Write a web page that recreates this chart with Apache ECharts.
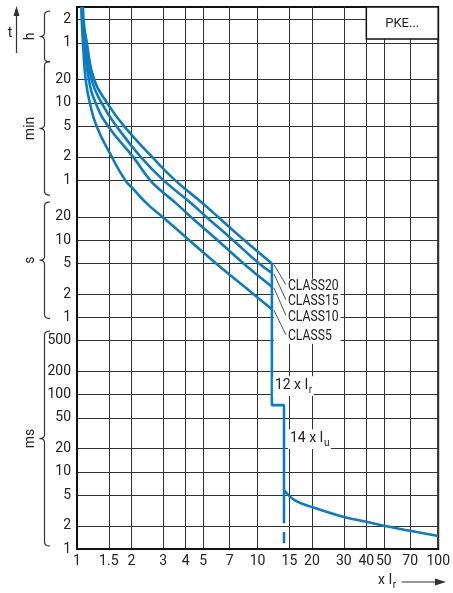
<!DOCTYPE html>
<html><head><meta charset="utf-8">
<script src="https://cdn.jsdelivr.net/npm/echarts@6/dist/echarts.min.js"></script>
<style>html,body{margin:0;padding:0;background:#fff}#c{width:453px;height:593px}</style>
</head><body><div id="c"></div>
<script>
// ---- data (x = multiple of Ir, t = seconds) ----
const xTicks = [1, 1.5, 2, 3, 4, 5, 7, 10, 15, 20, 30, 40, 50, 70, 100];
const yTicks = [0.001, 0.002, 0.005, 0.01, 0.02, 0.05, 0.1, 0.2, 0.5, 1, 2, 5, 10, 20, 60, 120, 300, 600, 1200, 3600, 7200];
const class5  = [[1.058, 10500], [1.062, 7200], [1.079, 3600], [1.117, 1200], [1.179, 600], [1.284, 300], [1.559, 120], [1.85, 60], [2.07, 45], [2.43, 30], [2.977, 20], [4.183, 10], [5.892, 5], [9.494, 2], [12, 1.28]];
const class10 = [[1.065, 10500], [1.07, 7200], [1.097, 3600], [1.164, 1200], [1.268, 600], [1.488, 300], [2.043, 120], [2.541, 60], [2.866, 45.5], [3.54, 30], [4.274, 20], [6.005, 10], [8.36, 5], [12, 2.49]];
const class15 = [[1.072, 10500], [1.078, 7200], [1.115, 3600], [1.205, 1200], [1.368, 600], [1.655, 300], [2.252, 120], [3.007, 60], [4.3, 30], [5.203, 20], [7.318, 10], [10.2, 5], [12, 3.78]];
const class20 = [[1.08, 10500], [1.087, 7200], [1.134, 3600], [1.245, 1200], [1.469, 600], [1.822, 300], [2.606, 120], [3.489, 60], [4.977, 30], [6.043, 20], [8.447, 10], [12, 5]];
const tripStep = [[12, 5], [12, 0.073], [14, 0.073], [14, 0.00216]];
const tripStepDash = [[14, 0.00166], [14, 0.00119]];
const shortCircuit = [[14, 0.0058], [16, 0.0043], [20, 0.0035], [30, 0.0026], [40, 0.00225], [50, 0.002], [70, 0.00172], [100, 0.00147]];
const classNames = ['CLASS20', 'CLASS15', 'CLASS10', 'CLASS5'];
const classLabelT = [2.5, 1.6, 1.0, 0.56];
const yMin = 0.001, yMax = 10500, xMin = 1, xMax = 100;

// ---- helpers ----
const BLUE = '#0a7cc2';
const mctx = document.createElement('canvas').getContext('2d');
function tw(text, font) { mctx.font = font; return mctx.measureText(text).width; }
const FAM = 'Roboto, "Liberation Sans", sans-serif';

function fmtY(v) {
  if (v < 0.9995) return String(Math.round(v * 1000));
  if (v < 59.5) return String(Math.round(v));
  if (v < 3599) return String(Math.round(v / 60));
  return String(Math.round(v / 3600));
}
const lineSeries = (name, data, extra) => Object.assign({
  name, type: 'line', data, symbol: 'none', silent: true, clip: true,
  lineStyle: { color: BLUE, width: 2.6 }, z: 5
}, extra || {});

const chart = echarts.init(document.getElementById('c'), null, { renderer: 'canvas' });
chart.setOption({
  animation: false,
  backgroundColor: '#fff',
  grid: { left: 77, right: 13, top: 7, bottom: 44, show: true, borderColor: '#111', borderWidth: 2, backgroundColor: 'transparent' },
  xAxis: {
    type: 'log', logBase: 10, min: xMin, max: xMax,
    axisLine: { show: true, onZero: false, lineStyle: { color: '#111', width: 2 } },
    axisTick: { show: false, customValues: xTicks },
    axisLabel: { customValues: xTicks, formatter: v => String(Math.round(v * 10) / 10), color: '#222', fontSize: 14, fontFamily: FAM, margin: 5 },
    splitLine: { show: true, lineStyle: { color: '#333', width: 1 } },
    minorSplitLine: { show: false }
  },
  yAxis: {
    type: 'log', logBase: 10, min: yMin, max: yMax,
    axisLine: { show: true, onZero: false, lineStyle: { color: '#111', width: 2 } },
    axisTick: { show: false, customValues: yTicks },
    axisLabel: { customValues: yTicks, formatter: fmtY, color: '#222', fontSize: 14, fontFamily: FAM, margin: 6 },
    splitLine: { show: true, lineStyle: { color: '#333', width: 1 } },
    minorSplitLine: { show: false }
  },
  series: [
    lineSeries('CLASS20', class20, { smooth: 0.5 }),
    lineSeries('CLASS15', class15, { smooth: 0.5 }),
    lineSeries('CLASS10', class10, { smooth: 0.5 }),
    lineSeries('CLASS5', class5, { smooth: 0.5 }),
    lineSeries('trip', tripStep),
    lineSeries('tripDash', tripStepDash),
    lineSeries('short', shortCircuit, { smooth: 0.4 })
  ]
});

// ---- annotations ----
const P = (x, y) => chart.convertToPixel({ seriesIndex: 0 }, [x, y]);
const PY = v => P(xMin, v)[1];
const PX = v => P(v, yMin)[0];
const g = [];
const TXT = '#222';

function quad(pts, p0, c, p1, n) {
  for (let i = 1; i <= n; i++) {
    const s = i / n, a = (1 - s) * (1 - s), b = 2 * s * (1 - s), d = s * s;
    pts.push([a * p0[0] + b * c[0] + d * p1[0], a * p0[1] + b * c[1] + d * p1[1]]);
  }
}
// unit braces on the left
const units = [
  { name: 'h', from: 7200, to: 3600, padTop: 8.5, padBot: 19 },
  { name: 'min', from: 1200, to: 60, padTop: 18, padBot: 15 },
  { name: 's', from: 20, to: 1, padTop: 15, padBot: 1 },
  { name: 'ms', from: 0.5, to: 0.001, padTop: 9.5, padBot: -3 }
];
const bx0 = 50, bx1 = 44.5, bx2 = 39.5, r = 4;
units.forEach(u => {
  const t = PY(u.from) - u.padTop, b = PY(u.to) + u.padBot, m = (t + b) / 2;
  const pts = [[bx0, t]];
  quad(pts, [bx0, t], [bx1, t], [bx1, t + r], 6);
  pts.push([bx1, m - r]);
  quad(pts, [bx1, m - r], [bx1, m], [bx2, m], 6);
  quad(pts, [bx2, m], [bx1, m], [bx1, m + r], 6);
  pts.push([bx1, b - r]);
  quad(pts, [bx1, b - r], [bx1, b], [bx0, b], 6);
  g.push({ type: 'polyline', z: 20, shape: { points: pts }, style: { stroke: '#333', lineWidth: 1.2, fill: null } });
  g.push({ type: 'text', z: 20, x: 30, y: m, rotation: Math.PI / 2,
    style: { text: u.name, font: '14px ' + FAM, fill: TXT, align: 'center', verticalAlign: 'middle' } });
});
// t arrow
g.push({ type: 'line', z: 20, shape: { x1: 16.5, y1: 53, x2: 16.5, y2: 14 }, style: { stroke: '#333', lineWidth: 1.2 } });
g.push({ type: 'polygon', z: 20, shape: { points: [[16.5, 6], [13.5, 16], [19.5, 16]] }, style: { fill: '#333' } });
g.push({ type: 'text', z: 20, x: 10, y: 33, style: { text: 't', font: '14px ' + FAM, fill: TXT, align: 'center', verticalAlign: 'middle' } });

// subscript label helper
function subLabel(x, yc, main, sub, size, bg) {
  const f = size + 'px ' + FAM, fs = Math.round(size * 0.72) + 'px ' + FAM;
  const w1 = tw(main, f), w2 = tw(sub, fs);
  if (bg) g.push({ type: 'rect', z: 18, shape: { x: x - 2, y: yc - size * 0.62, width: w1 + w2 + 4, height: size * 1.4 }, style: { fill: '#fff' } });
  g.push({ type: 'text', z: 20, x, y: yc, style: { text: main, font: f, fill: TXT, align: 'left', verticalAlign: 'middle' } });
  g.push({ type: 'text', z: 20, x: x + w1 + 0.5, y: yc + size * 0.42, style: { text: sub, font: fs, fill: TXT, align: 'left', verticalAlign: 'middle' } });
  return w1 + w2;
}
// x axis title with arrow
const ty = 580;
const w = subLabel(378, ty, 'x I', 'r', 14, false);
g.push({ type: 'line', z: 20, shape: { x1: 378 + w + 6, y1: ty + 2, x2: 437, y2: ty + 2 }, style: { stroke: '#333', lineWidth: 1.2 } });
g.push({ type: 'polygon', z: 20, shape: { points: [[446, ty + 2], [435, ty - 1.5], [435, ty + 5.5]] }, style: { fill: '#333' } });

// PKE box
const bl = PX(40), br = PX(xMax), bt = PY(yMax);
g.push({ type: 'rect', z: 18, shape: { x: bl, y: bt, width: br - bl, height: 32 }, style: { fill: '#fff', stroke: '#111', lineWidth: 1.5 } });
g.push({ type: 'text', z: 20, x: (bl + br) / 2, y: bt + 17, style: { text: 'PKE...', font: '13px ' + FAM, fill: TXT, align: 'center', verticalAlign: 'middle' } });

// class labels with leader lines
const ends = [class20, class15, class10, class5].map(s => s[s.length - 1]);
const lx = PX(12) + 16;
const lfont = '14px ' + FAM, lsx = 0.87;
const lw = Math.max(...classNames.map(n => tw(n, lfont))) * lsx;
g.push({ type: 'rect', z: 18, shape: { x: PX(12) + 2, y: PY(classLabelT[0]) - 8, width: lx - PX(12) + lw, height: PY(classLabelT[3]) - PY(classLabelT[0]) + 15 }, style: { fill: '#fff' } });
classNames.forEach((n, i) => {
  const yc = PY(classLabelT[i]);
  const e = P(ends[i][0], ends[i][1]);
  g.push({ type: 'line', z: 20, shape: { x1: e[0] + 2, y1: e[1] + 1, x2: lx - 2, y2: yc - 2 }, style: { stroke: '#222', lineWidth: 0.8 } });
  g.push({ type: 'text', z: 20, x: lx, y: yc, scaleX: lsx, style: { text: n, font: lfont, fill: TXT, align: 'left', verticalAlign: 'middle' } });
});
// 12 x Ir and 14 x Iu
subLabel(PX(12) + 3, 385, '12 x I', 'r', 14, true);
subLabel(PX(14) + 6, 438, '14 x I', 'u', 14, true);

chart.setOption({ graphic: g });
</script></body></html>
